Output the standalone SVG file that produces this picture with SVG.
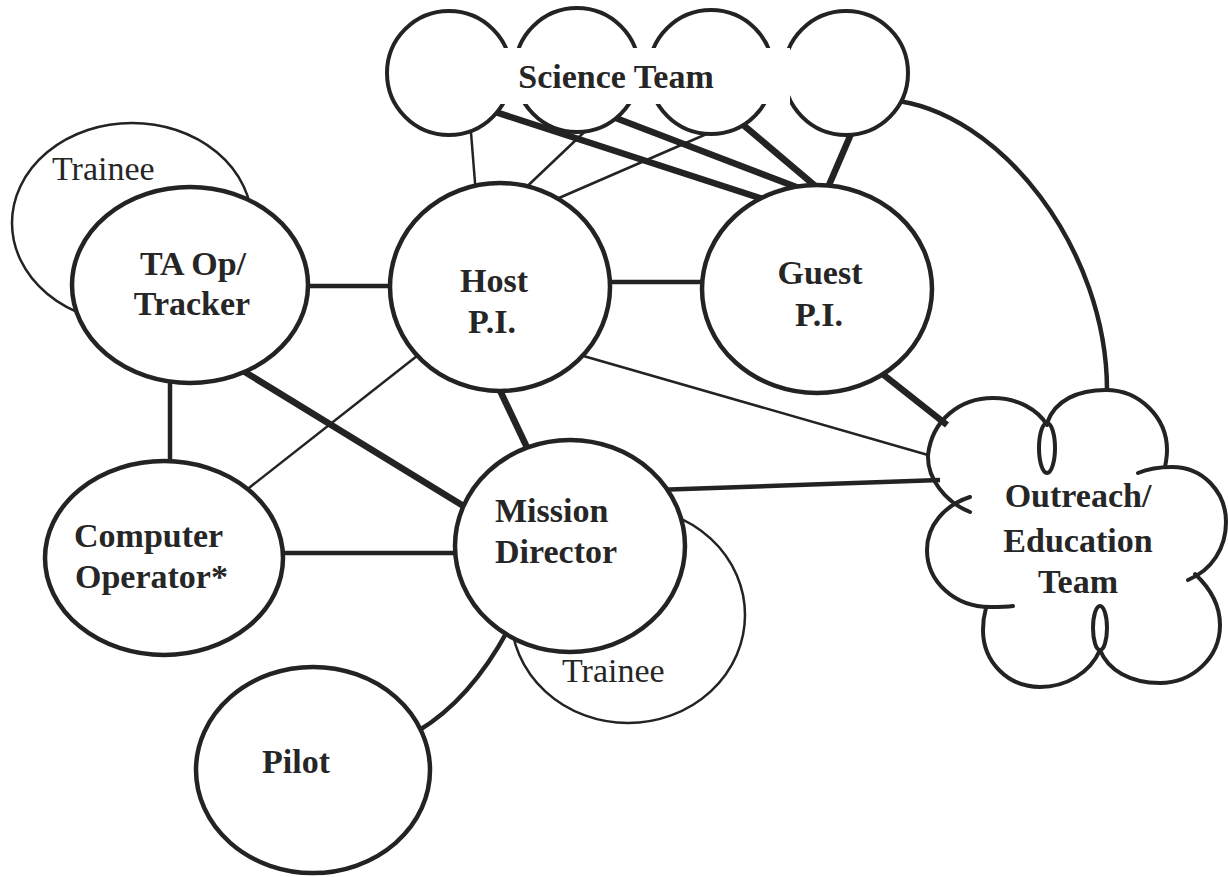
<svg xmlns="http://www.w3.org/2000/svg" width="1228" height="877" viewBox="0 0 1228 877">
<style>
.bg{fill:#fff}
.n{fill:#fff;stroke:#232323;stroke-width:4.5}
.tr{fill:#fff;stroke:#232323;stroke-width:2.5}
.o{fill:none;stroke:#232323;stroke-width:4;stroke-linecap:round}
.c{fill:none;stroke:#232323;stroke-linecap:butt}
.thin{stroke-width:2.5}
.med{stroke-width:4.5}
.thick{stroke-width:6.5}
.lb{font-family:"Liberation Serif","Times New Roman",serif;font-weight:bold;font-size:34px;fill:#262626}
.lr{font-family:"Liberation Serif","Times New Roman",serif;font-size:34px;fill:#262626}
</style>
<rect class="bg" x="0" y="0" width="1228" height="877"/>

<g id="connectors">
  <path class="c thick" d="M480,107 L775,203"/>
  <path class="c thick" d="M600,112 L812,193"/>
  <path class="c thick" d="M735,118 L820,190"/>
  <path class="c thick" d="M857,120 L826,192"/>
  <path class="c thin" d="M470,120 L476,195"/>
  <path class="c thin" d="M597,120 L518,195"/>
  <path class="c thin" d="M725,126 L552,201"/>
  <path class="c med" d="M890,100 C1000,110 1108,250 1107,392"/>
  <path class="c med" d="M300,286 H392"/>
  <path class="c med" d="M600,282 H710"/>
  <path class="c med" d="M170,375 V470"/>
  <path class="c thick" d="M240,369 L470,510"/>
  <path class="c thick" d="M495,380 L532,458"/>
  <path class="c thin" d="M422,352 L240,495"/>
  <path class="c med" d="M275,553 H465"/>
  <path class="c med" d="M655,490 L940,480"/>
  <path class="c thin" d="M580,355 L928,455"/>
  <path class="c thick" d="M880,372 L947,425"/>
  <path class="c med" d="M418,731 Q470,700 508,630"/>
</g>

<g id="trainee-ta">
  <ellipse class="tr" cx="132" cy="223" rx="120" ry="100"/>
  <text class="lr" x="52" y="180">Trainee</text>
</g>
<g id="trainee-md">
  <ellipse class="tr" cx="628" cy="615" rx="117" ry="108"/>
  <text class="lr" x="562" y="682">Trainee</text>
</g>

<g id="ta-op">
  <ellipse class="n" cx="190" cy="285" rx="118" ry="98"/>
  <text class="lb" x="193" y="275" text-anchor="middle">TA Op/</text>
  <text class="lb" x="192" y="315" text-anchor="middle">Tracker</text>
</g>
<g id="host-pi">
  <ellipse class="n" cx="500" cy="287" rx="110" ry="104"/>
  <text class="lb" x="494" y="292" text-anchor="middle">Host</text>
  <text class="lb" x="492" y="333" text-anchor="middle">P.I.</text>
</g>
<g id="guest-pi">
  <ellipse class="n" cx="817" cy="289" rx="115" ry="104"/>
  <text class="lb" x="820" y="284" text-anchor="middle">Guest</text>
  <text class="lb" x="819" y="326" text-anchor="middle">P.I.</text>
</g>
<g id="mission-director">
  <ellipse class="n" cx="570" cy="546" rx="115" ry="106"/>
  <text class="lb" x="495" y="522">Mission</text>
  <text class="lb" x="495" y="563">Director</text>
</g>
<g id="computer-operator">
  <ellipse class="n" cx="164" cy="558" rx="119" ry="97"/>
  <text class="lb" x="74" y="547">Computer</text>
  <text class="lb" x="75" y="588">Operator*</text>
</g>
<g id="pilot">
  <ellipse class="n" cx="313" cy="770" rx="117" ry="103"/>
  <text class="lb" x="296" y="773" text-anchor="middle">Pilot</text>
</g>

<g id="science-team">
  <circle class="bg" cx="449" cy="73" r="62"/>
  <circle class="bg" cx="577" cy="70" r="62"/>
  <circle class="bg" cx="711" cy="72" r="62"/>
  <circle class="bg" cx="846" cy="73" r="62"/>
  <circle class="o" cx="449" cy="73" r="62"/>
  <circle class="o" cx="577" cy="70" r="62"/>
  <circle class="o" cx="711" cy="72" r="62"/>
  <circle class="o" cx="846" cy="73" r="62"/>
  <rect class="bg" x="498" y="48" width="292" height="56"/>
  <text class="lb" x="616" y="88" text-anchor="middle">Science Team</text>
</g>

<g id="outreach">
  <path class="o" d="M970,512 C945,502 927,478 928,455 C932,420 960,398 993,398 C1018,398 1038,410 1047,425"/>
  <path class="o" d="M1047,423 C1055,400 1078,390 1106,390 C1140,390 1167,418 1167,450 C1167,456 1166,462 1165,467"/>
  <path class="o" d="M1138,473 C1150,468 1160,467 1172,467 C1203,467 1226,492 1226,522 C1226,548 1212,570 1188,580"/>
  <path class="o" d="M1195,574 C1210,588 1220,605 1220,625 C1220,658 1192,683 1160,683 C1130,683 1108,670 1100,650"/>
  <path class="o" d="M1100,650 C1090,673 1066,687 1040,687 C1008,687 983,662 983,630 C983,622 984,615 986,608"/>
  <path class="o" d="M970,497 C945,505 927,525 927,550 C927,582 955,607 990,607 C998,607 1006,607 1013,606"/>
  <ellipse class="o" cx="1047" cy="448" rx="8" ry="25"/>
  <ellipse class="o" cx="1100" cy="628" rx="7" ry="22"/>
  <text class="lb" x="1078" y="507" text-anchor="middle">Outreach/</text>
  <text class="lb" x="1078" y="552" text-anchor="middle">Education</text>
  <text class="lb" x="1078" y="593" text-anchor="middle">Team</text>
</g>
</svg>
